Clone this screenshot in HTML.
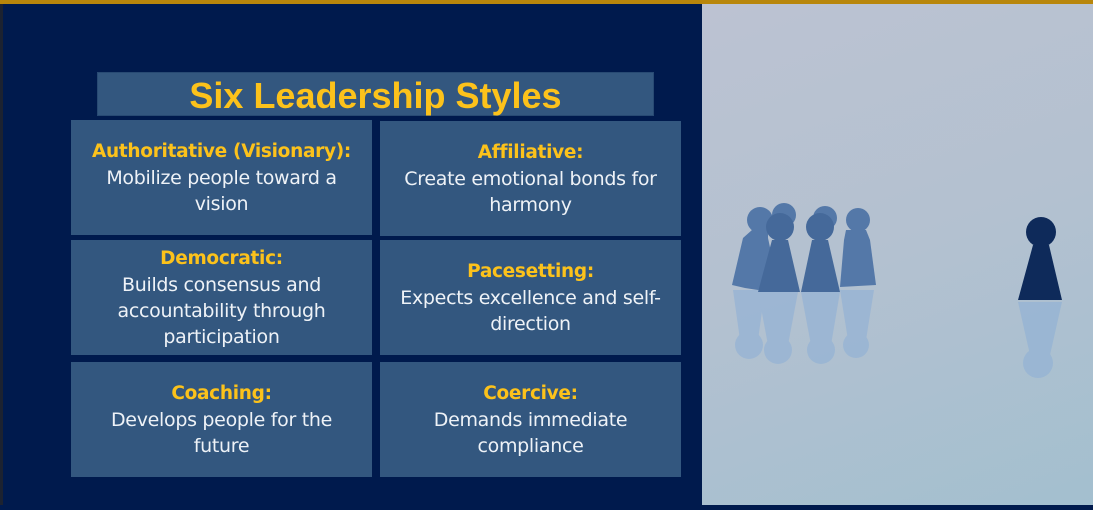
<!DOCTYPE html>
<html><head><meta charset="utf-8"><style>
*{margin:0;padding:0;box-sizing:border-box}
body{width:1093px;height:505px;overflow:hidden;background:#001a4d;font-family:"Liberation Sans",sans-serif;position:relative}
.gold{position:absolute;left:0;top:0;width:1093px;height:4px;background:#b8860b}
.lstrip{position:absolute;left:0;top:4px;width:3px;height:501px;background:#1c2230}
.right{position:absolute;left:702px;top:4px;width:391px;height:501px;background:linear-gradient(160deg,#bcc2d2 0%,#b3c1d0 50%,#a3bfcf 100%)}
.title{position:absolute;left:97px;top:72px;width:557px;height:44px;background:#33577f;border:1px solid #284a73;color:#fcc21b;font-weight:bold;font-size:36px;text-align:center;line-height:46px}
.cell{position:absolute;width:301px;height:115px;background:#33577f;color:#eef2f7;font-family:"DejaVu Sans",sans-serif;font-size:19px;letter-spacing:-0.3px;text-align:center;display:flex;flex-direction:column;justify-content:center;line-height:26px;padding:0 14px}
.cell b{color:#fcc21b;font-size:18.5px;letter-spacing:-0.3px;white-space:nowrap;margin:0 -14px}
</style></head><body>
<div class="gold"></div>
<div class="lstrip"></div>
<div class="title">Six Leadership Styles</div>
<div class="cell" style="left:71px;top:120px"><b>Authoritative (Visionary):</b>Mobilize people toward a vision</div>
<div class="cell" style="left:380px;top:121px"><b>Affiliative:</b>Create emotional bonds for harmony</div>
<div class="cell" style="left:71px;top:240px"><b>Democratic:</b>Builds consensus and accountability through participation</div>
<div class="cell" style="left:380px;top:240px"><b>Pacesetting:</b>Expects excellence and self-direction</div>
<div class="cell" style="left:71px;top:362px"><b>Coaching:</b>Develops people for the future</div>
<div class="cell" style="left:380px;top:362px"><b>Coercive:</b>Demands immediate compliance</div>
<div class="right">
<svg width="391" height="501" viewBox="702 4 391 501">
<g fill="#8fb0d6" opacity="0.6">
<path d="M733 290 L765 290 L758 340 L740 340Z"/><circle cx="749" cy="345" r="14"/>
<path d="M758 292 L798 292 L788 345 L768 345Z"/><circle cx="778" cy="350" r="14"/>
<path d="M801 292 L840 292 L831 345 L811 345Z"/><circle cx="821" cy="350" r="14"/>
<path d="M840 290 L874 290 L866 340 L848 340Z"/><circle cx="856" cy="345" r="13"/>
<path d="M1018 302 L1062 302 L1050 355 L1030 355Z"/><circle cx="1038" cy="363" r="15"/>
</g>
<g fill="#5478a8">
<circle cx="760" cy="220" r="13"/><circle cx="784" cy="215" r="12"/><circle cx="825" cy="218" r="12"/><circle cx="858" cy="220" r="12"/>
<path d="M752 230 L768 230 L768 238 L778 285 L758 290 L745 288 L732 285 L743 238 L752 230Z"/>
<path d="M835 232 L848 232 L860 285 L874 285 L868 235 L855 232Z"/>
<path d="M846 230 L866 230 L870 240 L876 285 L840 287 L844 240Z"/>
</g>
<g fill="#45699a">
<circle cx="780" cy="227" r="14"/><circle cx="820" cy="227" r="14"/>
<path d="M772 240 L788 240 L800 292 L758 292Z"/>
<path d="M812 240 L828 240 L840 292 L801 292Z"/>
</g>
<g fill="#0e2a5a">
<circle cx="1041" cy="232" r="15"/>
<path d="M1033 245 L1049 245 L1062 300 L1018 300Z"/>
</g>
</svg>
</div>
</body></html>
